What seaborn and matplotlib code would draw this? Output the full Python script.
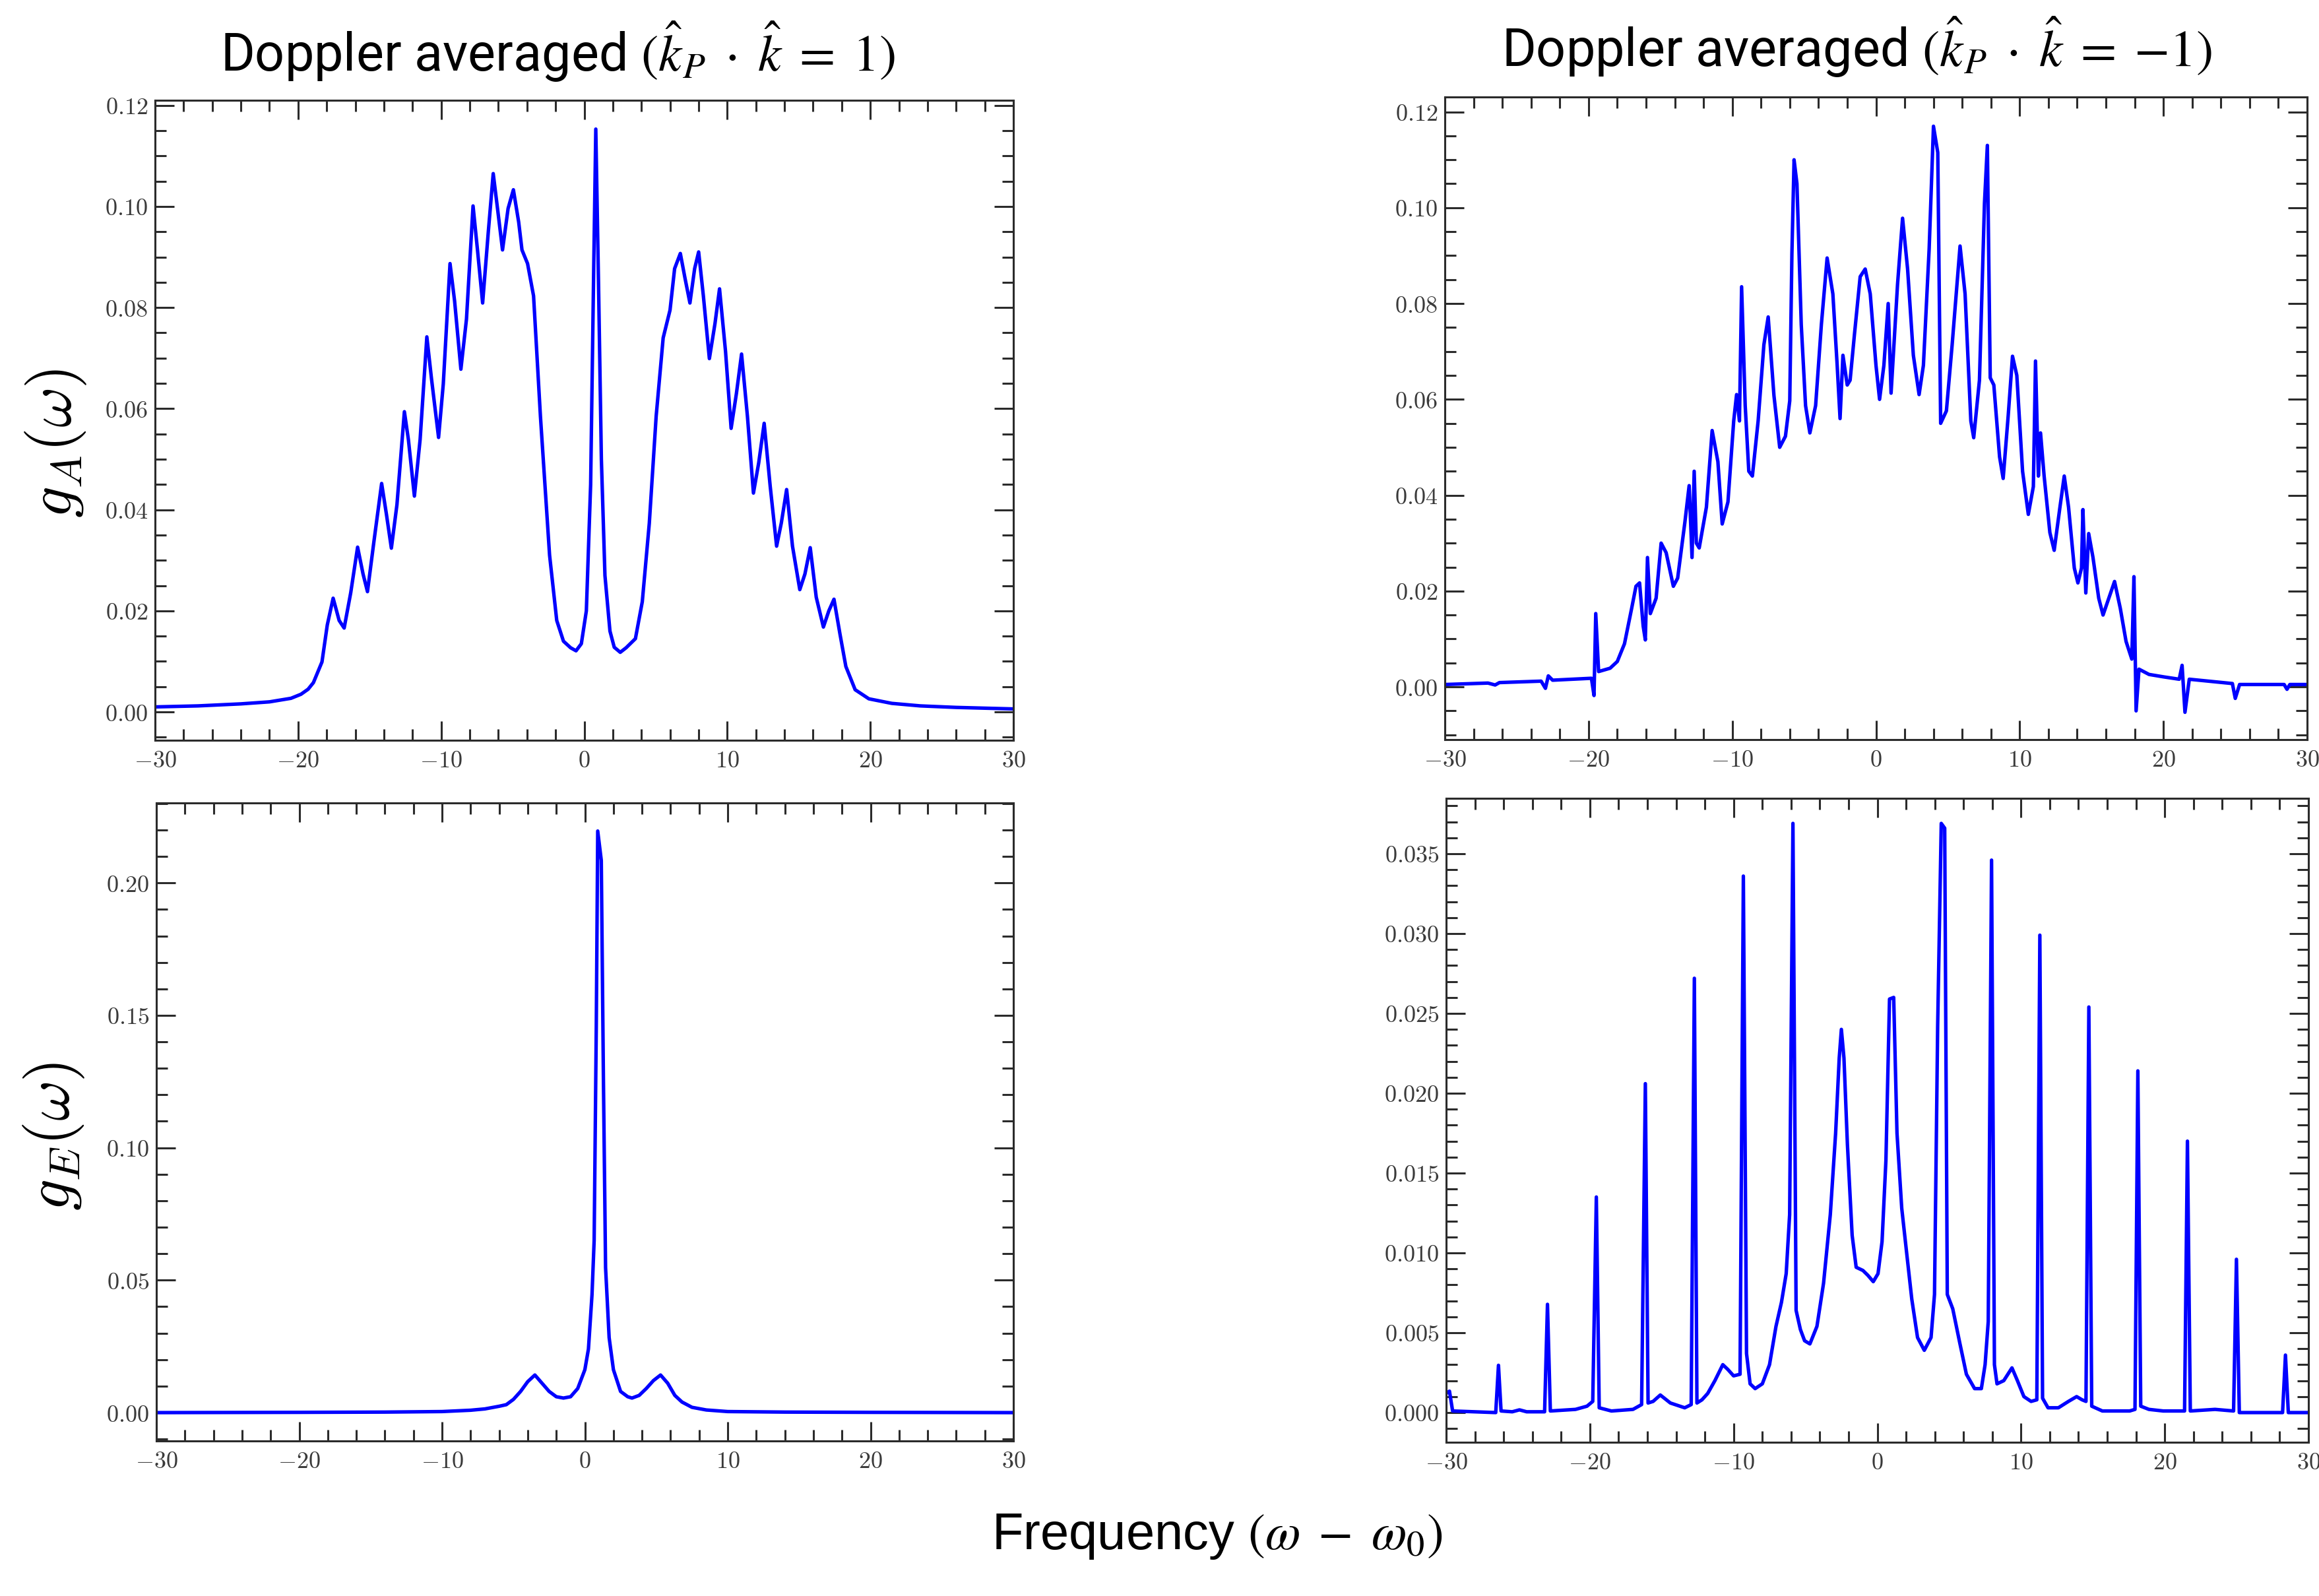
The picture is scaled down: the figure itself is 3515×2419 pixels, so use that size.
import matplotlib
matplotlib.use('Agg')
import matplotlib.pyplot as plt
import matplotlib.ticker as mticker
import pandas as pd
import seaborn as sns

# ---- values --------------------------------------------------------------
# g_A, k_P . k = +1 (top left)
ga_plus_x = [-30, -27, -24, -22, -20.5, -19.8, -19.3, -18.93, -18.33, -17.96,
             -17.55, -17.13, -16.78, -16.32, -15.84, -15.46, -15.15, -14.7, -14.16, -13.83,
             -13.48, -13.09, -12.57, -12.29, -11.87, -11.47, -11.0, -10.67, -10.18, -9.85,
             -9.38, -9.06, -8.62, -8.23, -7.77, -7.46, -7.1, -6.7, -6.36, -6.06,
             -5.71, -5.32, -4.95, -4.58, -4.35, -3.96, -3.54, -3.06, -2.42, -1.92,
             -1.45, -0.95, -0.57, -0.2, 0.15, 0.45, 0.65, 0.81, 1.0, 1.2,
             1.45, 1.8, 2.1, 2.52, 2.93, 3.58, 4.06, 4.55, 5.03, 5.52,
             6.0, 6.32, 6.72, 7.04, 7.39, 7.72, 8.0, 8.33, 8.75, 9.14,
             9.46, 9.88, 10.27, 10.64, 11.0, 11.41, 11.83, 12.2, 12.58, 13.0,
             13.45, 13.78, 14.15, 14.56, 15.07, 15.43, 15.8, 16.22, 16.72, 17.1,
             17.46, 17.88, 18.29, 18.94, 19.9, 21.5, 23.5, 26, 30]
ga_plus_y = [0.001, 0.0012, 0.0016, 0.002, 0.0027, 0.0035, 0.0045, 0.0058, 0.0099, 0.0172,
             0.0225, 0.0181, 0.0166, 0.0236, 0.0326, 0.0273, 0.0238, 0.0337, 0.0452, 0.0392,
             0.0324, 0.041, 0.0594, 0.0539, 0.0427, 0.0539, 0.0742, 0.0658, 0.0543, 0.0649,
             0.0887, 0.0813, 0.0678, 0.0777, 0.1001, 0.0914, 0.0809, 0.0951, 0.1065, 0.0996,
             0.0914, 0.0996, 0.1033, 0.0969, 0.0914, 0.0887, 0.0823, 0.0585, 0.031, 0.0181,
             0.014, 0.0127, 0.0121, 0.0135, 0.02, 0.045, 0.085, 0.1153, 0.085, 0.05,
             0.027, 0.016, 0.0128, 0.0118, 0.0127, 0.0145, 0.0218, 0.0373, 0.0585, 0.074,
             0.0795, 0.0877, 0.0907, 0.0859, 0.0809, 0.0877, 0.091, 0.0823, 0.0699, 0.0768,
             0.0837, 0.0713, 0.0561, 0.063, 0.0708, 0.0585, 0.0433, 0.0493, 0.0571, 0.0447,
             0.0328, 0.0374, 0.044, 0.0328, 0.0242, 0.0273, 0.0325, 0.0227, 0.0168, 0.02,
             0.0223, 0.0154, 0.009, 0.0044, 0.0026, 0.0017, 0.0012, 0.0009, 0.0006]

# g_A, k_P . k = -1 (top right)
ga_minus_x = [-30, -27.0, -26.5, -26.2, -23.3, -23.0, -22.8, -22.5, -19.8, -19.62,
              -19.5, -19.3, -18.5, -18.0, -17.5, -17.0, -16.7, -16.45, -16.2, -16.05,
              -15.9, -15.7, -15.3, -14.95, -14.6, -14.1, -13.8, -13.3, -13.0, -12.8,
              -12.65, -12.5, -12.3, -11.8, -11.4, -11.0, -10.7, -10.3, -9.9, -9.7,
              -9.5, -9.35, -9.1, -8.85, -8.6, -8.2, -7.8, -7.5, -7.1, -6.7,
              -6.3, -6.0, -5.85, -5.7, -5.5, -5.2, -4.9, -4.6, -4.2, -3.8,
              -3.4, -3.0, -2.7, -2.5, -2.3, -2.0, -1.8, -1.5, -1.1, -0.75,
              -0.4, 0.0, 0.25, 0.55, 0.85, 1.05, 1.5, 1.85, 2.2, 2.6,
              3.0, 3.3, 3.7, 4.0, 4.3, 4.5, 4.9, 5.3, 5.85, 6.2,
              6.6, 6.8, 7.2, 7.55, 7.75, 7.95, 8.2, 8.6, 8.85, 9.2,
              9.5, 9.8, 10.2, 10.6, 10.95, 11.1, 11.3, 11.45, 11.7, 12.1,
              12.4, 12.8, 13.1, 13.4, 13.8, 14.05, 14.3, 14.4, 14.6, 14.8,
              15.1, 15.5, 15.8, 16.2, 16.6, 17.0, 17.4, 17.8, 17.95, 18.1,
              18.3, 19.0, 20.0, 21.1, 21.3, 21.5, 21.8, 24.8, 25.0, 25.3,
              28.4, 28.6, 28.8, 30]
ga_minus_y = [0.0005, 0.0008, 0.0004, 0.0009, 0.0012, -0.0003, 0.0023, 0.0014, 0.0018, -0.0018,
              0.0153, 0.0032, 0.0039, 0.0053, 0.009, 0.0164, 0.021, 0.0217, 0.0127, 0.0098,
              0.027, 0.0153, 0.0185, 0.030, 0.028, 0.021, 0.0227, 0.0343, 0.042, 0.027,
              0.045, 0.030, 0.029, 0.0375, 0.0535, 0.047, 0.034, 0.0386, 0.0555, 0.061,
              0.0555, 0.0835, 0.0587, 0.045, 0.044, 0.0555, 0.0714, 0.0772, 0.0608, 0.050,
              0.0523, 0.0597, 0.0904, 0.110, 0.105, 0.0756, 0.0587, 0.053, 0.0587, 0.0756,
              0.0895, 0.082, 0.0671, 0.056, 0.0692, 0.063, 0.064, 0.0735, 0.0856, 0.0872,
              0.082, 0.0671, 0.060, 0.0671, 0.080, 0.0613, 0.084, 0.0978, 0.0872, 0.0692,
              0.061, 0.0671, 0.0914, 0.117, 0.1115, 0.055, 0.0576, 0.0714, 0.092, 0.082,
              0.0555, 0.052, 0.064, 0.101, 0.113, 0.0645, 0.063, 0.048, 0.0435, 0.0566,
              0.069, 0.065, 0.045, 0.036, 0.0418, 0.068, 0.044, 0.053, 0.044, 0.0322,
              0.0285, 0.0375, 0.044, 0.0375, 0.0248, 0.0217, 0.0248, 0.037, 0.0196, 0.032,
              0.027, 0.0185, 0.015, 0.0185, 0.022, 0.0164, 0.0095, 0.0058, 0.023, -0.005,
              0.0037, 0.0026, 0.0021, 0.0016, 0.0045, -0.0053, 0.0016, 0.0007, -0.0024, 0.0005,
              0.0005, -0.0005, 0.0005, 0.0005]

# g_E, k_P . k = +1 (bottom left)
ge_plus_x = [-30, -20, -14, -10, -8, -7, -6, -5.5, -5.0, -4.5,
             -4.0, -3.5, -3.0, -2.5, -2.0, -1.5, -1.0, -0.5, 0.0, 0.25,
             0.5, 0.65, 0.8, 0.9, 1.15, 1.3, 1.45, 1.7, 2.0, 2.5,
             3.0, 3.3, 3.8, 4.3, 4.8, 5.3, 5.8, 6.3, 6.8, 7.5,
             8.5, 10, 14, 20, 30]
ge_plus_y = [0.0, 0.0001, 0.0002, 0.0004, 0.0009, 0.0014, 0.0024, 0.003, 0.005, 0.008,
             0.0117, 0.0142, 0.0111, 0.008, 0.006, 0.0055, 0.006, 0.0091, 0.0162, 0.024,
             0.0445, 0.065, 0.146, 0.2196, 0.2085, 0.1255, 0.0547, 0.0283, 0.0162, 0.008,
             0.006, 0.0055, 0.0065, 0.0091, 0.0121, 0.0142, 0.0111, 0.0065, 0.004, 0.002,
             0.001, 0.0004, 0.0002, 0.0001, 0.0]

# g_E, k_P . k = -1 (bottom right)
ge_minus_x = [-30, -29.77, -29.55, -26.55, -26.36, -26.18, -25.4, -24.9, -24.4, -23.15,
              -22.95, -22.75, -21.0, -20.2, -19.8, -19.55, -19.35, -18.5, -17.0, -16.4,
              -16.14, -15.95, -15.6, -15.1, -14.4, -13.4, -12.95, -12.73, -12.55, -12.2,
              -11.8, -11.3, -10.75, -10.4, -10.0, -9.55, -9.32, -9.1, -8.85, -8.5,
              -8.0, -7.5, -7.05, -6.67, -6.34, -6.1, -5.87, -5.65, -5.35, -5.06,
              -4.69, -4.2, -3.74, -3.27, -2.9, -2.65, -2.5, -2.32, -2.08, -1.75,
              -1.47, -1.0, -0.66, -0.28, 0.05, 0.33, 0.6, 0.85, 1.14, 1.37,
              1.7, 2.03, 2.4, 2.8, 3.27, 3.74, 3.98, 4.2, 4.45, 4.69,
              4.87, 5.25, 5.73, 6.2, 6.77, 7.24, 7.5, 7.72, 7.95, 8.15,
              8.33, 8.8, 9.37, 9.75, 10.2, 10.7, 11.1, 11.31, 11.5, 11.88,
              12.6, 13.3, 13.87, 14.25, 14.52, 14.72, 14.92, 15.66, 17.56, 17.93,
              18.13, 18.33, 18.9, 19.9, 21.38, 21.58, 21.78, 23.5, 24.79, 24.99,
              25.19, 28.2, 28.4, 28.6, 30]
ge_minus_y = [0.0012, 0.00134, 0.0001, 0.0, 0.00296, 0.0001, 0.00005, 0.00017, 0.00005, 0.00005,
              0.00678, 0.0001, 0.0002, 0.0004, 0.0007, 0.0135, 0.0003, 0.0001, 0.0002, 0.0005,
              0.0206, 0.0006, 0.0007, 0.0011, 0.0006, 0.0003, 0.0005, 0.0272, 0.0006, 0.0008,
              0.0012, 0.002, 0.003, 0.0027, 0.0023, 0.0024, 0.0336, 0.0037, 0.0018, 0.0015,
              0.0018, 0.003, 0.0054, 0.0069, 0.0087, 0.0124, 0.0369, 0.0064, 0.0052, 0.0045,
              0.0043, 0.0054, 0.0081, 0.0124, 0.0175, 0.0222, 0.024, 0.0222, 0.0168, 0.0111,
              0.0091, 0.0089, 0.0086, 0.0082, 0.0087, 0.0107, 0.0158, 0.0259, 0.026, 0.0175,
              0.0128, 0.0101, 0.0071, 0.0047, 0.0039, 0.0047, 0.0074, 0.0242, 0.0369, 0.0366,
              0.0074, 0.0065, 0.0044, 0.0024, 0.0015, 0.0015, 0.003, 0.0057, 0.0346, 0.003,
              0.0018, 0.002, 0.0028, 0.002, 0.001, 0.0007, 0.0008, 0.0299, 0.0009, 0.0003,
              0.0003, 0.0007, 0.001, 0.0008, 0.0007, 0.0254, 0.0004, 0.0001, 0.0001, 0.0002,
              0.0214, 0.0004, 0.0002, 0.0001, 0.0001, 0.0170, 0.0001, 0.0002, 0.0001, 0.0096,
              0.0, 0.0, 0.0036, 0.0, 0.0]

title_left = r'Doppler averaged $(\hat{k}_P\;\cdot\;\hat{k}\;=\;1)$'
title_right = r'Doppler averaged $(\hat{k}_P\;\cdot\;\hat{k}\;=\;{-}1)$'
ylabel_top = r'$g_A(\omega)$'
ylabel_bottom = r'$g_E(\omega)$'
xlabel = r'Frequency $\left(\omega\;-\;\omega_0\right)$'

# ---- style ----------------------------------------------------------------
sns.set_theme(style='ticks')
plt.rcParams['font.family'] = ['DejaVu Sans']
plt.rcParams['mathtext.fontset'] = 'cm'
plt.rcParams['axes.linewidth'] = 2.2
plt.rcParams['axes.edgecolor'] = '#2b2b2b'

W, H = 3515, 2419
LINE = '#0000ff'


def rect(left, right, top, bottom):
    return [left / W, 1 - bottom / H, (right - left) / W, (bottom - top) / H]


def tex_formatter(fmt):
    return mticker.FuncFormatter(lambda v, pos: r'$\mathrm{%s}$' % (fmt % v))


def draw_panel(ax, xs, ys, ylim, ymajor, yminor, yfmt):
    df = pd.DataFrame({'freq': xs, 'g': ys})
    sns.lineplot(data=df, x='freq', y='g', ax=ax, color=LINE, linewidth=3.8,
                 estimator=None, sort=False)
    ax.set_xlim(-30, 30)
    ax.set_ylim(*ylim)
    ax.xaxis.set_major_locator(mticker.MultipleLocator(10))
    ax.xaxis.set_minor_locator(mticker.MultipleLocator(2))
    ax.yaxis.set_major_locator(mticker.MultipleLocator(ymajor))
    ax.yaxis.set_minor_locator(mticker.MultipleLocator(yminor))
    ax.xaxis.set_major_formatter(tex_formatter('%d'))
    ax.yaxis.set_major_formatter(tex_formatter(yfmt))
    ax.tick_params(which='both', direction='in', top=True, right=True,
                   color='#2b2b2b', width=2.2, labelsize=26, labelcolor='#3a3a3a')
    ax.tick_params(which='major', length=21)
    ax.tick_params(which='minor', length=12)
    ax.tick_params(axis='y', pad=8)
    ax.tick_params(axis='x', pad=10)
    ax.set_xlabel('')
    ax.set_ylabel('')
    for s in ax.spines.values():
        s.set_visible(True)


fig = plt.figure(figsize=(W / 100, H / 100), dpi=100)
fig.patch.set_facecolor('white')

ax_tl = fig.add_axes(rect(235, 1536, 152, 1122))
ax_tr = fig.add_axes(rect(2190, 3497, 147, 1121))
ax_bl = fig.add_axes(rect(237, 1536, 1217, 2184))
ax_br = fig.add_axes(rect(2192, 3499, 1210, 2186))

draw_panel(ax_tl, ga_plus_x, ga_plus_y, (-0.0056, 0.121), 0.02, 0.005, '%.2f')
draw_panel(ax_tr, ga_minus_x, ga_minus_y, (-0.011, 0.1231), 0.02, 0.005, '%.2f')
draw_panel(ax_bl, ge_plus_x, ge_plus_y, (-0.0107, 0.2302), 0.05, 0.01, '%.2f')
draw_panel(ax_br, ge_minus_x, ge_minus_y, (-0.00186, 0.03847), 0.005, 0.001, '%.3f')

# titles, shared x label and y labels
fig.text(845 / W, 1 - 108 / H, title_left, family='Roboto', math_fontfamily='stix',
         fontsize=57, ha='center', va='baseline', color='black')
fig.text(2814 / W, 1 - 101 / H, title_right, family='Roboto', math_fontfamily='stix',
         fontsize=57, ha='center', va='baseline', color='black')
fig.text(1845 / W, 1 - 2348 / H, xlabel, family='Liberation Sans', math_fontfamily='stix',
         fontsize=56, ha='center', va='baseline', color='black')
fig.text(85 / W, 1 - 672 / H, ylabel_top, math_fontfamily='cm', fontsize=68,
         rotation=90, ha='center', va='center', color='black')
fig.text(82 / W, 1 - 1723 / H, ylabel_bottom, math_fontfamily='cm', fontsize=68,
         rotation=90, ha='center', va='center', color='black')

fig.savefig('out.png', dpi=100)
